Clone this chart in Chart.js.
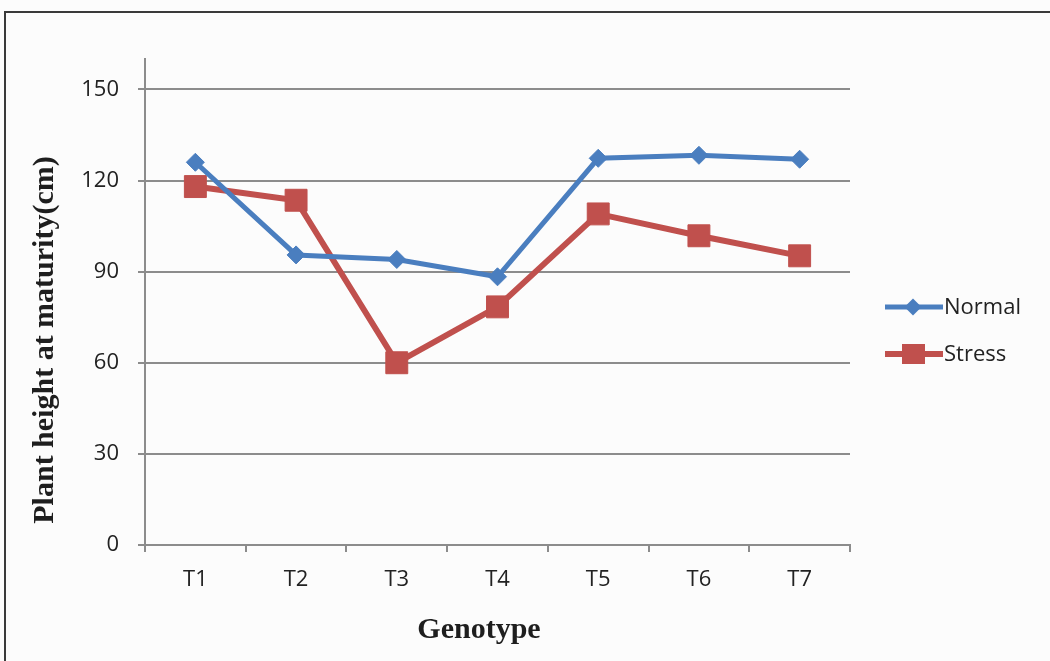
<!DOCTYPE html>
<html>
<head>
<meta charset="utf-8">
<script src="https://cdn.jsdelivr.net/npm/chart.js@4.4.1/dist/chart.umd.min.js"></script>
<style>
  html, body { margin: 0; padding: 0; background: #fcfcfc; }
  #wrap { position: relative; width: 1050px; height: 661px; overflow: hidden; }
  #frame { position: absolute; left: 4px; top: 11px; width: 1100px; height: 700px;
           border-left: 2px solid #3a3a3a; border-top: 2px solid #3a3a3a; pointer-events: none; }
  canvas { position: absolute; left: 0; top: 0; }
</style>
</head>
<body>
<div id="wrap">
  <canvas id="c" width="1050" height="661"></canvas>
  <div id="frame"></div>
</div>
<script>
// Plant height at maturity (cm) for seven genotypes
const genotypes = ['T1', 'T2', 'T3', 'T4', 'T5', 'T6', 'T7'];
const normalHeight = [126, 95.5, 94, 88.3, 127.3, 128.3, 127];
const stressHeight = [118, 113.5, 60, 78.4, 109, 101.8, 95.2];
const yTicks = [0, 30, 60, 90, 120, 150];
const xTitle = 'Genotype';
const yTitle = 'Plant height at maturity(cm)';

const BLUE = '#4a7ebf';
const RED = '#c0504d';
const GRID = '#8c8c8c';
const SANS = '"Open Sans", Lato, sans-serif';
const tickFont = { family: SANS, size: 22 };
const TITLE_FONT = 'bold 30px "Liberation Serif", "DejaVu Serif", serif';

// Axis titles, placed beside the plot
const axisTitles = {
  id: 'axisTitles',
  afterDraw(chart) {
    const ctx = chart.ctx;
    ctx.save();
    ctx.fillStyle = '#1e1e1e';
    ctx.font = TITLE_FONT;
    ctx.textAlign = 'center';
    ctx.textBaseline = 'middle';
    ctx.fillText(xTitle, 479, 630);
    ctx.translate(45, 340);
    ctx.rotate(-Math.PI / 2);
    ctx.fillText(yTitle, 0, 0);
    ctx.restore();
  }
};

// Legend drawn to the right of the plot: line sample with marker, then label
const sideLegend = {
  id: 'sideLegend',
  afterDraw(chart) {
    const ctx = chart.ctx;
    const rows = [307, 354];
    ctx.save();
    chart.data.datasets.forEach((ds, i) => {
      const y = rows[i];
      ctx.strokeStyle = ds.borderColor;
      ctx.lineWidth = ds.borderWidth;
      ctx.beginPath();
      ctx.moveTo(885, y);
      ctx.lineTo(943, y);
      ctx.stroke();
      ctx.fillStyle = ds.pointBackgroundColor;
      ctx.beginPath();
      if (ds.pointStyle === 'rectRot') {
        const r = 8.5;
        ctx.moveTo(913, y - r); ctx.lineTo(913 + r, y); ctx.lineTo(913, y + r); ctx.lineTo(913 - r, y);
      } else {
        ctx.rect(902, y - 10, 23, 20);
      }
      ctx.closePath();
      ctx.fill();
      ctx.fillStyle = '#222';
      ctx.font = '22px ' + SANS;
      ctx.textBaseline = 'middle';
      ctx.textAlign = 'left';
      ctx.fillText(ds.label, 944, y + 1);
    });
    ctx.restore();
  }
};

new Chart(document.getElementById('c'), {
  type: 'line',
  data: {
    labels: genotypes,
    datasets: [
      {
        label: 'Normal', data: normalHeight,
        borderColor: BLUE, backgroundColor: BLUE,
        pointBackgroundColor: BLUE, pointBorderColor: BLUE,
        borderWidth: 5, pointStyle: 'rectRot', pointRadius: 9, pointBorderWidth: 1,
        tension: 0
      },
      {
        label: 'Stress', data: stressHeight,
        borderColor: RED, backgroundColor: RED,
        pointBackgroundColor: RED, pointBorderColor: RED,
        borderWidth: 6, pointStyle: 'rect', pointRadius: 15.5, pointBorderWidth: 1,
        tension: 0
      }
    ]
  },
  options: {
    responsive: false,
    animation: false,
    layout: { padding: { left: 28, right: 200, top: 59, bottom: 9 } },
    plugins: { legend: { display: false }, tooltip: { enabled: false } },
    scales: {
      x: {
        offset: true,
        grid: { display: true, offset: true, drawOnChartArea: false, drawTicks: true, tickLength: 7, color: GRID, lineWidth: 2 },
        border: { display: true, color: GRID, width: 2 },
        ticks: { color: '#222', font: tickFont, padding: 15, maxRotation: 0 },
        title: { display: false },
        afterFit(scale) { scale.height = 107; }
      },
      y: {
        min: 0, max: 160,
        afterBuildTicks(scale) { scale.ticks = yTicks.map(v => ({ value: v })); },
        grid: { color: GRID, lineWidth: 2, drawTicks: true, tickLength: 7 },
        border: { display: true, color: GRID, width: 2 },
        ticks: { color: '#222', font: tickFont, padding: 19 },
        title: { display: false },
        afterFit(scale) { scale.width = 117; }
      }
    }
  },
  plugins: [sideLegend, axisTitles]
});
</script>
</body>
</html>
